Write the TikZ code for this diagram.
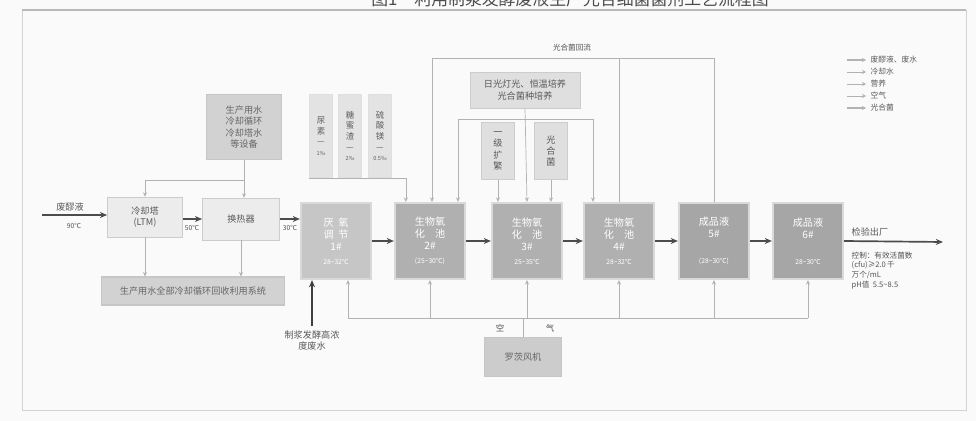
\documentclass[tikz,border=0pt]{standalone}
\usepackage{fontspec}
\newfontfamily\cjk{Noto Sans CJK SC}
\usetikzlibrary{arrows.meta,positioning,calc}

\begin{document}
\begin{tikzpicture}[x=0.025cm, y=-0.025cm,
  every node/.style={font=\cjk\fontsize{6.5}{8}\selectfont, inner sep=1pt},
  tank/.style={draw=gray!30, line width=1.6pt, fill=gray!62, text=white, minimum width=1.75cm, minimum height=1.9cm, align=center, font=\cjk\fontsize{7.2}{8.6}\selectfont},
  prodtank/.style={tank, fill=gray!70},
  unit/.style={draw=gray!40, fill=gray!15, text=gray!70!black, align=center},
  supply/.style={draw=gray!45, line width=0.8pt, fill=gray!35, text=gray!80!black, align=center},
  tallbox/.style={draw=gray!25, fill=gray!22, text=gray!75!black, minimum width=0.58cm, minimum height=2.08cm, align=center, font=\cjk\fontsize{6}{7.5}\selectfont},
  flow/.style={-{Stealth[length=1.1mm,width=1mm]}, gray!60, line width=0.5pt},
  mainflow/.style={-{Stealth[length=1.8mm,width=1.5mm]}, gray!60!black, line width=1.2pt},
  pipe/.style={gray!60, line width=0.5pt},
  note/.style={font=\cjk\fontsize{4.8}{6}\selectfont, text=gray!65!black},
  legtext/.style={anchor=west, font=\cjk\fontsize{5.5}{6.5}\selectfont, text=gray!70!black},
]
\useasboundingbox[fill=gray!4] (0,0) rectangle (976,421);
\draw[gray!35, line width=0.7pt] (22,10) rectangle (966,410);
\draw[gray!55, line width=1.2pt] (22,10) -- (966,10);
\node[font=\cjk\fontsize{12}{13}\selectfont, text=gray!60!black] (title) at (570,-1) {图1\quad 利用制浆发酵废液生产光合细菌菌剂工艺流程图};

% pre-treatment
\node[unit, minimum width=1.88cm, minimum height=1cm] (cool) at (145,217) {冷却塔\\(LTM)};
\node[unit, minimum width=1.93cm, minimum height=1.05cm] (hx) at (241,219) {换热器};
\node[supply, minimum width=1.88cm, minimum height=1.63cm] (water) at (244,127) {生产用水\\冷却循环\\冷却塔水\\等设备};
\node[supply, minimum width=4.58cm, minimum height=0.7cm] (reuse) at (193,291) {生产用水全部冷却循环回收利用系统};

% tanks
\node[tank, fill=gray!45] (t1) at (336,241) {厌\ \ 氧\\调\ \ 节\\1\#\\[1pt]{\fontsize{4.8}{6}\selectfont 28\textasciitilde32℃}};
\node[tank] (t2) at (430,241) {生物氧\\化\quad 池\\2\#\\[1pt]{\fontsize{4.8}{6}\selectfont (25\textasciitilde30℃)}};
\node[tank] (t3) at (527,241) {生物氧\\化\quad 池\\3\#\\[1pt]{\fontsize{4.8}{6}\selectfont 25\textasciitilde35℃}};
\node[tank] (t4) at (619,241) {生物氧\\化\quad 池\\4\#\\[1pt]{\fontsize{4.8}{6}\selectfont 28\textasciitilde32℃}};
\node[prodtank] (t5) at (714,241) {成品液\\5\#\\[10pt]{\fontsize{4.8}{6}\selectfont (28\textasciitilde30℃)}};
\node[prodtank] (t6) at (808,241) {成品液\\6\#\\[10pt]{\fontsize{4.8}{6}\selectfont 28\textasciitilde30℃}};

% nutrients and culture
\node[tallbox] (tb1) at (321,136) {尿\\素\\—\\{\fontsize{4}{5}\selectfont 1‰}};
\node[tallbox] (tb2) at (350,136) {糖\\蜜\\渣\\—\\{\fontsize{4}{5}\selectfont 2‰}};
\node[tallbox] (tb3) at (380,136) {硫\\酸\\镁\\—\\{\fontsize{4}{5}\selectfont 0.5‰}};
\node[unit, fill=gray!25, minimum width=2.75cm, minimum height=0.9cm] (culture) at (525,90) {日光灯光、恒温培养\\光合菌种培养};
\node[unit, fill=gray!25, minimum width=0.83cm, minimum height=1.43cm] (expand) at (498,151) {一\\级\\扩\\繁};
\node[unit, fill=gray!25, minimum width=0.83cm, minimum height=1.43cm] (psb) at (551,151) {光\\合\\菌};
\node[supply, fill=gray!40, minimum width=1.93cm, minimum height=0.98cm] (blower) at (523,357) {罗茨风机};

% coordinates for free ends
\coordinate (in) at (42,215);
\coordinate (out) at (943,242);
\coordinate (feed) at (312,326);
\coordinate (loop) at (432,58);
\coordinate (branch) at (525,119);
\coordinate (air) at (348,318);

% waste liquid line
\draw[mainflow] (in) -- (in -| cool.west);
\node[text=gray!70!black] (inlab) at (70,207) {废醪液};
\node[note] (intemp) at (74,226) {90℃};
\draw[mainflow] (cool.east |- hx) -- (hx.west);
\node[note] (temp1) at (192,228) {50℃};
\draw[mainflow] (hx.east) -- (hx.east -| t1.west);
\node[note] (temp2) at (290,228) {30℃};
\foreach \a/\b in {t1/t2,t2/t3,t3/t4,t4/t5,t5/t6}
  \draw[mainflow] (\a.east) -- (\b.west);
\draw[mainflow] (t6.east) -- (out);
\node[text=gray!70!black, anchor=south west] (ship) at (850,238) {检验出厂};
\node[note, font=\cjk\fontsize{5.4}{7}\selectfont, anchor=north west, align=left] (spec) at (850,250) {控制：有效活菌数\\(cfu)≥2.0\,千\\万个/mL\\pH值\ \ 5.5\textasciitilde8.5};

% cooling water
\draw[flow] (water.south) -- (hx.north -| water.south);
\draw[flow] (water.south |- 0,180) -| (cool.north);
\draw[flow] (cool.south) -- (cool.south |- reuse.north);
\draw[flow] (hx.south) -- (hx.south |- reuse.north);

% nutrients
\draw[pipe] (tb1.south west) -- ([xshift=0.3cm]t2.north west |- tb1.south);
\draw[flow] ([xshift=0.3cm]t2.north west |- tb1.south) -- ([xshift=0.3cm]t2.north west);

% photosynthetic bacteria
\draw[pipe] (t5.north) |- (loop);
\draw[flow] (loop) -- (loop |- t2.north);
\draw[pipe] (t4.north) -- (t4.north |- loop);
\node[note, font=\cjk\fontsize{5.4}{7}\selectfont] (looplab) at (572,48) {光合菌回流};
\draw[flow] (culture.south) -- (t3.north);
\draw[flow] (branch) -| ([xshift=0.7cm]t2.north);
\draw[flow] (branch) -| ([xshift=-0.65cm]t4.north);
\draw[flow] (expand.south) -- (expand.south |- t3.north);
\draw[flow] (psb.south) -- (psb.south |- t3.north);

% feed and air
\draw[mainflow, gray!50!black, line width=1pt] (feed) -- (feed |- t1.south);
\node[below=2pt of feed, text=gray!70!black, align=center] (feedlab) {制浆发酵高浓\\度废水};
\draw[pipe] (air) -- (air -| t6.south);
\draw[flow] (air) -- (air |- t1.south);
\foreach \t in {t2,t3,t4,t5,t6}
  \draw[flow] (air -| \t.south) -- (\t.south);
\draw[pipe] (blower.north) -- (blower.north |- air);
\node[note, font=\cjk\fontsize{6}{7}\selectfont] (airl) at (500,328) {空};
\node[note, font=\cjk\fontsize{6}{7}\selectfont] (airr) at (550,328) {气};

% legend
\foreach \y/\txt/\w in {60/废醪液、废水/1pt,72/冷却水/0.7pt,84/营养/0.5pt,96/空气/0.4pt,108/光合菌/0.8pt}{
  \draw[-{Stealth[length=1mm,width=1mm]}, gray!60, line width=\w] (847,\y) -- (866,\y);
  \node[legtext] at (869,\y) {\txt};
}
\end{tikzpicture}
\end{document}
